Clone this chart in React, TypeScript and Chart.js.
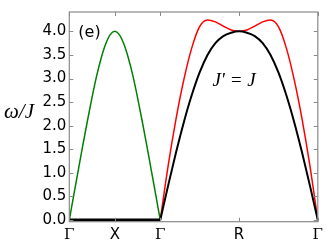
import React, { useEffect, useRef } from "react";
import { Chart, registerables } from "chart.js";

Chart.register(...registerables);

// Path Γ–X–Γ (units of π along the path)
const pathGXG: number[] = [0, 0.1, 0.2, 0.3, 0.4, 0.5, 0.6, 0.7, 0.8, 0.9, 1.0, 1.1, 1.2, 1.3, 1.4, 1.5, 1.6, 1.7, 1.8, 1.9, 2.0];
const greenGXG: number[] = [0, 0.54, 1.07, 1.6, 2.11, 2.6, 3.05, 3.43, 3.73, 3.93, 4.0, 3.93, 3.73, 3.43, 3.05, 2.6, 2.11, 1.6, 1.07, 0.54, 0];
const flatX: number[] = [0, 2.0];
const flatY: number[] = [0, 0];

// Path Γ–R–Γ
const pathGRG: number[] = [2.0, 2.173, 2.346, 2.52, 2.693, 2.866, 3.039, 3.212, 3.386, 3.559, 3.732, 3.905, 4.078, 4.252, 4.425, 4.598, 4.771, 4.944, 5.118, 5.291, 5.464];
const blackGRG: number[] = [0, 0.73, 1.43, 2.08, 2.65, 3.13, 3.5, 3.75, 3.9, 3.97, 4.0, 3.97, 3.9, 3.75, 3.5, 3.13, 2.65, 2.08, 1.43, 0.73, 0];
const redGRG: number[] = [0, 1.15, 2.14, 2.98, 3.65, 4.1, 4.24, 4.2, 4.11, 4.03, 4.0, 4.03, 4.11, 4.2, 4.24, 4.1, 3.65, 2.98, 2.14, 1.15, 0];

// Axes
const xTickPos: number[] = [0, 1, 2, 3.732, 5.464];
const xTickLabels: string[] = ["Γ", "X", "Γ", "R", "Γ"];
const yTicks: number[] = [0, 0.5, 1.0, 1.5, 2.0, 2.5, 3.0, 3.5, 4.0];
const yMin = -0.035;
const yMax = 4.41;

const panelLabel = "(e)";
const curveLabel = "J' = J";
const yTitle = "ω/J";

const toPts = (xs: number[], ys: number[]) => xs.map((x, i) => ({ x, y: ys[i] }));

const framePlugin = {
  id: "framePlugin",
  afterDatasetsDraw(chart: any) {
    const { ctx, chartArea: a, scales } = chart;
    ctx.save();
    ctx.strokeStyle = "#8a8a8a";
    ctx.lineWidth = 1.2;
    ctx.strokeRect(a.left, a.top, a.right - a.left, a.bottom - a.top);
    const tl = 4;
    ctx.lineWidth = 1;
    ctx.beginPath();
    for (const t of scales.x.ticks) {
      const px = Math.round(scales.x.getPixelForValue(t.value)) + 0.5;
      ctx.moveTo(px, a.top);
      ctx.lineTo(px, a.top + tl);
      ctx.moveTo(px, a.bottom);
      ctx.lineTo(px, a.bottom - tl);
    }
    for (const t of scales.y.ticks) {
      const py = Math.round(scales.y.getPixelForValue(t.value)) + 0.5;
      ctx.moveTo(a.left, py);
      ctx.lineTo(a.left + tl, py);
      ctx.moveTo(a.right, py);
      ctx.lineTo(a.right - tl, py);
    }
    ctx.stroke();

    ctx.fillStyle = "#000";
    ctx.textBaseline = "middle";
    ctx.textAlign = "left";
    ctx.font = "16px 'DejaVu Sans'";
    ctx.fillText(panelLabel, a.left + 9, a.top + 21);

    ctx.textAlign = "center";
    ctx.font = "italic 19px 'Liberation Serif'";
    ctx.fillText(curveLabel, scales.x.getPixelForValue(3.732) - 5, scales.y.getPixelForValue(2.95));

    ctx.textAlign = "left";
    ctx.font = "italic 21px 'Liberation Serif'";
    ctx.fillText(yTitle, 4, 112);
    ctx.restore();
  },
};

export default function App() {
  const ref = useRef<HTMLCanvasElement | null>(null);
  useEffect(() => {
    if (!ref.current) return;
    const chart = new Chart(ref.current, {
      type: "line",
      data: {
        datasets: [
          { data: toPts(flatX, flatY), borderColor: "#000000", borderWidth: 3, order: 0 },
          { data: toPts(pathGRG, blackGRG), borderColor: "#000000", borderWidth: 2, order: 1 },
          { data: toPts(pathGRG, redGRG), borderColor: "#ff0000", borderWidth: 1.5, order: 2 },
          { data: toPts(pathGXG, greenGXG), borderColor: "#008000", borderWidth: 1.5, order: 3 },
        ] as any,
      },
      options: {
        responsive: false,
        animation: false,
        devicePixelRatio: 1,
        layout: { padding: { top: 4, right: 4.3, left: 0, bottom: 0 } },
        elements: {
          point: { radius: 0 },
          line: { cubicInterpolationMode: "monotone", fill: false },
        },
        plugins: { legend: { display: false }, tooltip: { enabled: false } },
        scales: {
          x: {
            type: "linear",
            min: xTickPos[0],
            max: xTickPos[xTickPos.length - 1],
            grid: { display: false, drawTicks: false },
            border: { display: false },
            afterBuildTicks: (s: any) => {
              s.ticks = xTickPos.map((v) => ({ value: v }));
            },
            afterFit: (s: any) => {
              s.height = 23.3;
            },
            ticks: {
              autoSkip: false,
              maxRotation: 0,
              padding: 4,
              color: "#000",
              callback: (_v: any, i: number) => xTickLabels[i],
              font: (c: any) => ({
                family: xTickLabels[c.index] === "Γ" ? "'DejaVu Serif'" : "'DejaVu Sans'",
                size: 15,
              }),
            },
          },
          y: {
            type: "linear",
            min: yMin,
            max: yMax,
            grid: { display: false, drawTicks: false },
            border: { display: false },
            afterBuildTicks: (s: any) => {
              s.ticks = yTicks.map((v) => ({ value: v }));
            },
            afterFit: (s: any) => {
              s.width = 69.3;
            },
            ticks: {
              padding: 3,
              color: "#000",
              callback: (v: any) => Number(v).toFixed(1),
              font: { family: "'DejaVu Sans'", size: 15 },
            },
          },
        },
      } as any,
      plugins: [framePlugin],
    });
    return () => chart.destroy();
  }, []);
  return (
    <div style={{ position: "fixed", left: 0, top: 0, width: 327, height: 245, background: "#fff" }}>
      <canvas ref={ref} width={327} height={245} />
    </div>
  );
}
